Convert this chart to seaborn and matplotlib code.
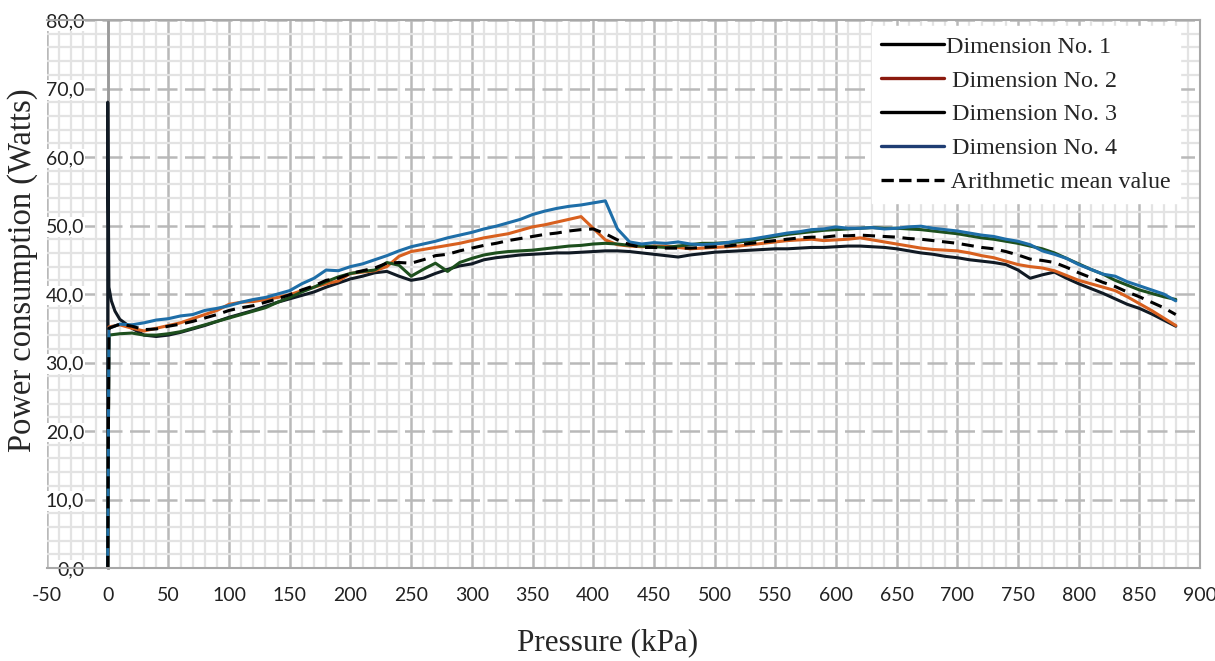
import pandas as pd
import matplotlib.pyplot as plt
from matplotlib.lines import Line2D
from matplotlib.ticker import MultipleLocator, FuncFormatter
import seaborn as sns

# Pressure grid (kPa) after the start-up spike
pressure = list(range(10, 890, 10))

# Start-up segments (x at 0 kPa, then quick settle)
dim1_start_x = [0, 0, 1, 3, 6]
dim1_start_y = [0.0, 68.0, 41.0, 39.0, 37.5]
other_start_x = [0, 1]

dim1 = [36.3, 35.0, 34.0, 33.8, 34.0, 34.4, 34.9, 35.4, 36.0, 36.6,
        37.1, 37.6, 38.2, 38.8, 39.3, 39.8, 40.3, 41.0, 41.6, 42.2,
        42.6, 43.1, 43.3, 42.6, 42.0, 42.3, 43.0, 43.6, 44.1, 44.4,
        45.0, 45.3, 45.5, 45.7, 45.8, 45.9, 46.0, 46.0, 46.1, 46.2,
        46.3, 46.3, 46.2, 46.0, 45.8, 45.6, 45.4, 45.7, 45.9, 46.1,
        46.2, 46.3, 46.4, 46.5, 46.6, 46.6, 46.7, 46.8, 46.8, 46.9,
        47.0, 47.0, 46.9, 46.8, 46.6, 46.3, 46.0, 45.8, 45.5, 45.3,
        45.0, 44.8, 44.6, 44.3, 43.5, 42.3, 42.8, 43.2, 42.3, 41.5,
        40.8, 40.1, 39.3, 38.5, 37.9, 37.1, 36.2, 35.3]

dim2_start = [0.0, 35.2]
dim2 = [35.5, 35.0, 34.6, 35.0, 35.4, 35.8, 36.4, 37.0, 37.6, 38.5,
        38.8, 38.9, 39.2, 39.5, 39.9, 40.5, 41.0, 41.5, 41.9, 43.0,
        43.2, 43.4, 44.0, 45.5, 46.2, 46.5, 46.8, 47.1, 47.4, 47.8,
        48.2, 48.5, 48.8, 49.3, 49.8, 50.1, 50.5, 50.9, 51.3, 49.6,
        47.9, 47.2, 47.0, 46.9, 47.0, 47.0, 46.8, 46.6, 46.7, 46.8,
        46.9, 47.0, 47.2, 47.4, 47.6, 47.8, 47.9, 48.0, 47.8, 47.9,
        48.0, 48.2, 47.9, 47.6, 47.3, 47.0, 46.7, 46.5, 46.4, 46.3,
        46.0, 45.6, 45.3, 44.8, 44.3, 44.0, 43.8, 43.4, 42.7, 42.0,
        41.5, 41.0, 40.5, 39.6, 38.6, 37.6, 36.5, 35.4]

dim3_start = [0.0, 34.0]
dim3 = [34.2, 34.3, 34.0, 34.0, 34.2, 34.5, 35.0, 35.5, 36.0, 36.5,
        37.0, 37.5, 38.0, 38.8, 39.5, 40.3, 41.0, 41.8, 42.5, 43.0,
        43.3, 43.5, 44.6, 44.2, 42.6, 43.6, 44.5, 43.3, 44.6, 45.2,
        45.7, 46.0, 46.2, 46.3, 46.4, 46.6, 46.8, 47.0, 47.1, 47.3,
        47.4, 47.3, 47.1, 47.0, 46.9, 46.8, 47.0, 47.2, 47.4, 47.4,
        47.5, 47.6, 47.8, 48.1, 48.4, 48.7, 48.9, 49.1, 49.3, 49.4,
        49.5, 49.6, 49.7, 49.6, 49.6, 49.5, 49.4, 49.2, 49.0, 48.8,
        48.5, 48.2, 48.0, 47.7, 47.4, 47.0, 46.6, 46.0, 45.2, 44.4,
        43.6, 42.9, 42.0, 41.3, 40.6, 40.1, 39.6, 39.2]

dim4_start = [0.0, 35.0]
dim4 = [35.6, 35.5, 35.8, 36.2, 36.4, 36.8, 37.0, 37.6, 37.9, 38.3,
        38.8, 39.2, 39.5, 40.0, 40.5, 41.5, 42.3, 43.5, 43.4, 44.0,
        44.4, 45.0, 45.6, 46.3, 46.9, 47.3, 47.7, 48.2, 48.6, 49.0,
        49.5, 49.9, 50.4, 50.9, 51.6, 52.1, 52.5, 52.8, 53.0, 53.3,
        53.6, 49.5, 47.6, 47.3, 47.5, 47.4, 47.6, 47.3, 47.2, 47.3,
        47.5, 47.8, 48.0, 48.3, 48.6, 48.9, 49.1, 49.4, 49.5, 49.8,
        49.6, 49.6, 49.7, 49.5, 49.6, 49.8, 49.9, 49.6, 49.4, 49.2,
        48.9, 48.6, 48.4, 48.0, 47.7, 47.2, 46.3, 45.8, 45.2, 44.3,
        43.6, 42.9, 42.6, 41.8, 41.2, 40.6, 40.0, 39.0]

mean_start = [0.0, 35.0]
mean_vals = [35.6, 35.3, 34.8, 34.9, 35.3, 35.6, 36.0, 36.5, 37.0, 37.6,
             38.0, 38.3, 38.8, 39.3, 39.9, 40.6, 41.2, 42.0, 42.3, 43.0,
             43.4, 43.8, 44.5, 44.6, 44.5, 45.0, 45.6, 45.8, 46.3, 46.7,
             47.1, 47.4, 47.8, 48.1, 48.4, 48.7, 48.9, 49.2, 49.4, 49.5,
             48.8, 47.9, 47.2, 46.8, 46.8, 46.7, 46.7, 46.7, 46.8, 46.9,
             47.0, 47.2, 47.4, 47.6, 47.8, 48.0, 48.2, 48.3, 48.3, 48.5,
             48.5, 48.6, 48.5, 48.4, 48.3, 48.1, 48.0, 47.8, 47.6, 47.4,
             47.1, 46.8, 46.6, 46.2, 45.7, 45.1, 44.9, 44.6, 43.9, 43.1,
             42.4, 41.7, 41.1, 40.3, 39.6, 38.8, 38.0, 37.0]

labels = ['Dimension No. 1', ' Dimension No. 2', ' Dimension No. 3',
          ' Dimension No. 4', ' Arithmetic mean value']
line_colors = ['#111a24', '#d8601f', '#1d4f1d', '#1e6ea8', 'black']
legend_colors = ['black', '#8b1a0e', 'black', '#1f3d73', 'black']

series = [
    (dim1_start_x + pressure, dim1_start_y + dim1),
    (other_start_x + pressure, dim2_start + dim2),
    (other_start_x + pressure, dim3_start + dim3),
    (other_start_x + pressure, dim4_start + dim4),
    (other_start_x + pressure, mean_start + mean_vals),
]

sns.set_style('white')
plt.rcParams['axes.unicode_minus'] = False
fig = plt.figure(figsize=(12.15, 6.61), dpi=100)
ax = fig.add_axes([0.0387, 0.1407, 0.9490, 0.8290])

for i, (xs, ys) in enumerate(series):
    df = pd.DataFrame({'Pressure': xs, 'Power': ys})
    sns.lineplot(data=df, x='Pressure', y='Power', ax=ax,
                 estimator=None, sort=False, color=line_colors[i],
                 linewidth=2.2)
    if i == 4:
        ax.lines[-1].set_dashes((4, 2.5))

ax.set_xlim(-50, 900)
ax.set_ylim(0, 80)
ax.xaxis.set_major_locator(MultipleLocator(50))
ax.xaxis.set_minor_locator(MultipleLocator(10))
ax.yaxis.set_major_locator(MultipleLocator(10))
ax.yaxis.set_minor_locator(MultipleLocator(2))
ax.yaxis.set_major_formatter(FuncFormatter(lambda v, p: f'{v:.1f}'.replace('.', ',')))

ax.grid(which='minor', color='#e3e3e3', linewidth=1.6)
ax.grid(which='major', axis='x', color='#b9b9b9', linewidth=1.8)
ax.grid(which='major', axis='y', color='#b9b9b9', linewidth=1.8, linestyle=(0, (8, 3)))
ax.set_axisbelow(True)

for s in ax.spines.values():
    s.set_color('#a8a8a8')
    s.set_linewidth(1.5)
# vertical axis crosses at 0 kPa, as in the spreadsheet chart
ax.spines['left'].set_position(('data', 0))
ax.spines['left'].set_color('#9a9a9a')
ax.spines['left'].set_linewidth(2)
ax.spines['left'].set_zorder(1)

ax.tick_params(which='both', length=0)
ax.tick_params(axis='x', pad=14)
ax.tick_params(axis='y', pad=17)
for t in ax.get_xticklabels() + ax.get_yticklabels():
    t.set_fontfamily('Lato')
    t.set_fontsize(14)
    t.set_color('#222222')
for t in ax.get_yticklabels():
    t.set_bbox(dict(facecolor='white', edgecolor='none', pad=1.0))

ax.set_xlabel('Pressure (kPa)', fontfamily='Liberation Serif', fontsize=22.4)
ax.set_ylabel('Power consumption (Watts)', fontfamily='Liberation Serif', fontsize=23.5)
ax.xaxis.set_label_coords(0.486, -0.109)
ax.yaxis.set_label_coords(-0.008, 0.544)

handles = [Line2D([], [], color=legend_colors[i], linewidth=2.4,
                  linestyle='--' if i == 4 else '-') for i in range(5)]
leg = ax.legend(handles, labels, loc='upper right', bbox_to_anchor=(0.986, 0.995),
                frameon=True, prop={'family': 'Liberation Serif', 'size': 17.3},
                handlelength=2.6, handletextpad=0.1, labelspacing=0.5,
                borderaxespad=0.15, borderpad=0.4, fancybox=False)
leg.get_frame().set_facecolor('white')
leg.get_frame().set_edgecolor('white')
leg.get_frame().set_alpha(1)

fig.savefig('out.png', dpi=100)
